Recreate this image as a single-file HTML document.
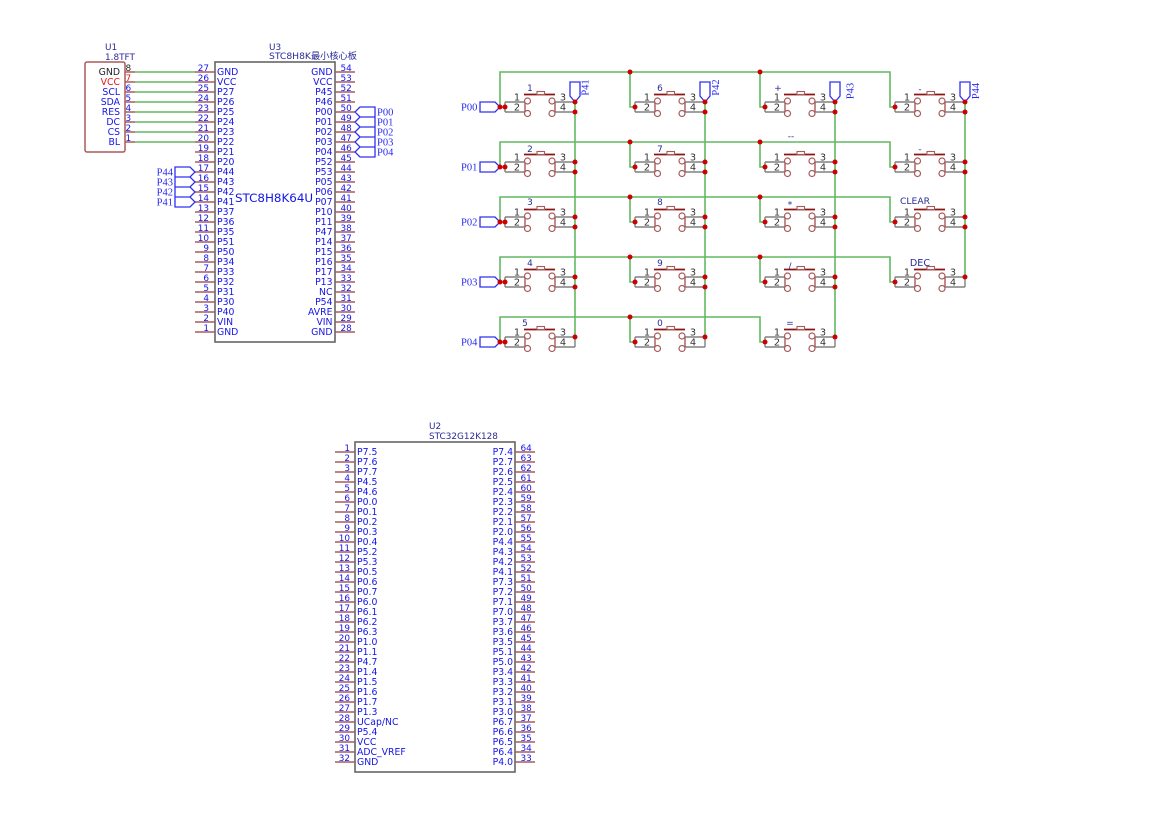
<!DOCTYPE html>
<html><head><meta charset="utf-8"><style>
html,body{margin:0;padding:0;background:#fff;width:1169px;height:827px;overflow:hidden}
svg{display:block}
text{font-family:"DejaVu Sans","Noto Sans CJK SC",sans-serif;font-size:8.9px;fill:#1414e8}
.n{font-size:9.3px}
.t{fill:#2a2a96}
.s{fill:#333;font-size:9.8px}
.p{font-family:"Liberation Serif",serif;font-size:10.5px;fill:#2a2aee}
.m{text-anchor:middle}
.e{text-anchor:end}
.g{fill:none;stroke:#62b862;stroke-width:1.6}
.tag{fill:none;stroke:#3030f0;stroke-width:1.3}
.d{fill:#cc0000}
</style></head><body>
<svg xmlns="http://www.w3.org/2000/svg" width="1169" height="827" viewBox="0 0 1169 827">
<defs>
<g id="sw">
<path d="M0 0h20M0 10h20M50 0h20M50 10h20M0 0v10" fill="none" stroke="#808080" stroke-width="1.4"/>
<path d="M20 0v10M50 0v10" fill="none" stroke="#a85a5a" stroke-width="1.4"/>
<circle cx="22.5" cy="-1" r="3" fill="#fff" stroke="#a85a5a" stroke-width="1.2"/>
<circle cx="22.5" cy="11.5" r="3" fill="#fff" stroke="#a85a5a" stroke-width="1.2"/>
<circle cx="47" cy="-1" r="3" fill="#fff" stroke="#a85a5a" stroke-width="1.2"/>
<circle cx="47" cy="11.5" r="3" fill="#fff" stroke="#a85a5a" stroke-width="1.2"/>
<path d="M19 -7.5h31" stroke="#8c1414" stroke-width="1.8" fill="none"/>
<rect x="32" y="-10.5" width="7.5" height="3" fill="#fff" stroke="#a85a5a" stroke-width="1.1"/>
</g>
</defs>

<!-- U1 -->
<rect x="85" y="62" width="40" height="90" rx="2" fill="#fff" stroke="#a85a5a" stroke-width="1.5"/>
<text class="t" x="105" y="50">U1</text>
<text class="t" x="105" y="60">1.8TFT</text>
<text class="e n" x="120" y="75" style="fill:#222">GND</text>
<text class="e n" x="120" y="85" style="fill:#e01818">VCC</text>
<text class="e n" x="120" y="95">SCL</text>
<text class="e n" x="120" y="105">SDA</text>
<text class="e n" x="120" y="115">RES</text>
<text class="e n" x="120" y="125">DC</text>
<text class="e n" x="120" y="135">CS</text>
<text class="e n" x="120" y="145">BL</text>
<line x1="130" x2="130" y1="71.25" y2="143" stroke="#a85a5a" stroke-width="10" stroke-dasharray="1.5 8.5"/>
<text x="125.5" y="71" style="fill:#222">8</text>
<text x="125.5" y="81" style="fill:#e01818">7</text>
<text x="125.5" y="91">6</text>
<text x="125.5" y="101">5</text>
<text x="125.5" y="111">4</text>
<text x="125.5" y="121">3</text>
<text x="125.5" y="131">2</text>
<text x="125.5" y="141">1</text>
<path class="g" d="M135 72H195M135 82H195M135 92H195M135 102H195M135 112H195M135 122H195M135 132H195M135 142H195"/>

<!-- U3 -->
<rect x="215" y="62" width="120" height="280" fill="#fff" stroke="#666" stroke-width="1.6"/>
<text class="t" x="269" y="50">U3</text>
<text class="t" x="269" y="59" style="font-size:9.2px">STC8H8K最小核心板</text>
<text x="235" y="202" style="font-size:11.9px">STC8H8K64U</text>
<line x1="205" x2="205" y1="71.25" y2="333" stroke="#a85a5a" stroke-width="20" stroke-dasharray="1.5 8.5"/>
<line x1="345" x2="345" y1="71.25" y2="333" stroke="#a85a5a" stroke-width="20" stroke-dasharray="1.5 8.5"/>
<text class="e"><tspan x="209" y="71">27</tspan><tspan x="209" dy="10">26</tspan><tspan x="209" dy="10">25</tspan><tspan x="209" dy="10">24</tspan><tspan x="209" dy="10">23</tspan><tspan x="209" dy="10">22</tspan><tspan x="209" dy="10">21</tspan><tspan x="209" dy="10">20</tspan><tspan x="209" dy="10">19</tspan><tspan x="209" dy="10">18</tspan><tspan x="209" dy="10">17</tspan><tspan x="209" dy="10">16</tspan><tspan x="209" dy="10">15</tspan><tspan x="209" dy="10">14</tspan><tspan x="209" dy="10">13</tspan><tspan x="209" dy="10">12</tspan><tspan x="209" dy="10">11</tspan><tspan x="209" dy="10">10</tspan><tspan x="209" dy="10">9</tspan><tspan x="209" dy="10">8</tspan><tspan x="209" dy="10">7</tspan><tspan x="209" dy="10">6</tspan><tspan x="209" dy="10">5</tspan><tspan x="209" dy="10">4</tspan><tspan x="209" dy="10">3</tspan><tspan x="209" dy="10">2</tspan><tspan x="209" dy="10">1</tspan></text>
<text class="n"><tspan x="217" y="75">GND</tspan><tspan x="217" dy="10">VCC</tspan><tspan x="217" dy="10">P27</tspan><tspan x="217" dy="10">P26</tspan><tspan x="217" dy="10">P25</tspan><tspan x="217" dy="10">P24</tspan><tspan x="217" dy="10">P23</tspan><tspan x="217" dy="10">P22</tspan><tspan x="217" dy="10">P21</tspan><tspan x="217" dy="10">P20</tspan><tspan x="217" dy="10">P44</tspan><tspan x="217" dy="10">P43</tspan><tspan x="217" dy="10">P42</tspan><tspan x="217" dy="10">P41</tspan><tspan x="217" dy="10">P37</tspan><tspan x="217" dy="10">P36</tspan><tspan x="217" dy="10">P35</tspan><tspan x="217" dy="10">P51</tspan><tspan x="217" dy="10">P50</tspan><tspan x="217" dy="10">P34</tspan><tspan x="217" dy="10">P33</tspan><tspan x="217" dy="10">P32</tspan><tspan x="217" dy="10">P31</tspan><tspan x="217" dy="10">P30</tspan><tspan x="217" dy="10">P40</tspan><tspan x="217" dy="10">VIN</tspan><tspan x="217" dy="10">GND</tspan></text>
<text class="e n"><tspan x="332.5" y="75">GND</tspan><tspan x="332.5" dy="10">VCC</tspan><tspan x="332.5" dy="10">P45</tspan><tspan x="332.5" dy="10">P46</tspan><tspan x="332.5" dy="10">P00</tspan><tspan x="332.5" dy="10">P01</tspan><tspan x="332.5" dy="10">P02</tspan><tspan x="332.5" dy="10">P03</tspan><tspan x="332.5" dy="10">P04</tspan><tspan x="332.5" dy="10">P52</tspan><tspan x="332.5" dy="10">P53</tspan><tspan x="332.5" dy="10">P05</tspan><tspan x="332.5" dy="10">P06</tspan><tspan x="332.5" dy="10">P07</tspan><tspan x="332.5" dy="10">P10</tspan><tspan x="332.5" dy="10">P11</tspan><tspan x="332.5" dy="10">P47</tspan><tspan x="332.5" dy="10">P14</tspan><tspan x="332.5" dy="10">P15</tspan><tspan x="332.5" dy="10">P16</tspan><tspan x="332.5" dy="10">P17</tspan><tspan x="332.5" dy="10">P13</tspan><tspan x="332.5" dy="10">NC</tspan><tspan x="332.5" dy="10">P54</tspan><tspan x="332.5" dy="10">AVRE</tspan><tspan x="332.5" dy="10">VIN</tspan><tspan x="332.5" dy="10">GND</tspan></text>
<text><tspan x="340.5" y="71">54</tspan><tspan x="340.5" dy="10">53</tspan><tspan x="340.5" dy="10">52</tspan><tspan x="340.5" dy="10">51</tspan><tspan x="340.5" dy="10">50</tspan><tspan x="340.5" dy="10">49</tspan><tspan x="340.5" dy="10">48</tspan><tspan x="340.5" dy="10">47</tspan><tspan x="340.5" dy="10">46</tspan><tspan x="340.5" dy="10">45</tspan><tspan x="340.5" dy="10">44</tspan><tspan x="340.5" dy="10">43</tspan><tspan x="340.5" dy="10">42</tspan><tspan x="340.5" dy="10">41</tspan><tspan x="340.5" dy="10">40</tspan><tspan x="340.5" dy="10">39</tspan><tspan x="340.5" dy="10">38</tspan><tspan x="340.5" dy="10">37</tspan><tspan x="340.5" dy="10">36</tspan><tspan x="340.5" dy="10">35</tspan><tspan x="340.5" dy="10">34</tspan><tspan x="340.5" dy="10">33</tspan><tspan x="340.5" dy="10">32</tspan><tspan x="340.5" dy="10">31</tspan><tspan x="340.5" dy="10">30</tspan><tspan x="340.5" dy="10">29</tspan><tspan x="340.5" dy="10">28</tspan></text>
<path class="tag" d="M355 112l5-5h15v10h-15zM355 122l5-5h15v10h-15zM355 132l5-5h15v10h-15zM355 142l5-5h15v10h-15zM355 152l5-5h15v10h-15z"/>
<text class="p"><tspan x="377" y="115.5">P00</tspan><tspan x="377" dy="10">P01</tspan><tspan x="377" dy="10">P02</tspan><tspan x="377" dy="10">P03</tspan><tspan x="377" dy="10">P04</tspan></text>
<path class="tag" d="M195 172l-5-5h-15v10h15zM195 182l-5-5h-15v10h15zM195 192l-5-5h-15v10h15zM195 202l-5-5h-15v10h15z"/>
<text class="p e"><tspan x="173" y="175.5">P44</tspan><tspan x="173" dy="10">P43</tspan><tspan x="173" dy="10">P42</tspan><tspan x="173" dy="10">P41</tspan></text>

<!-- Keypad wires -->
<path class="g" d="M500 107V72H890V107H895M630 72V107H635M760 72V107H765
M500 167V142H890V167H895M630 142V167H635M760 142V167H765
M500 222V197H890V222H895M630 197V222H635M760 197V222H765
M500 282V257H890V282H895M630 257V282H635M760 257V282H765
M500 342V317H760V342H765M630 317V342H635
M575 102V337M705 102V337M835 102V337M965 102V277"/>

<!-- Switches -->
<g transform="translate(505 102)"><use href="#sw"/><text class="s m" x="12" y="-1.5">1</text><text class="s m" x="12" y="8.5">2</text><text class="s m" x="58" y="-1.5">3</text><text class="s m" x="58" y="8.5">4</text></g>
<g transform="translate(635 102)"><use href="#sw"/><text class="s m" x="12" y="-1.5">1</text><text class="s m" x="12" y="8.5">2</text><text class="s m" x="58" y="-1.5">3</text><text class="s m" x="58" y="8.5">4</text></g>
<g transform="translate(765 102)"><use href="#sw"/><text class="s m" x="12" y="-1.5">1</text><text class="s m" x="12" y="8.5">2</text><text class="s m" x="58" y="-1.5">3</text><text class="s m" x="58" y="8.5">4</text></g>
<g transform="translate(895 102)"><use href="#sw"/><text class="s m" x="12" y="-1.5">1</text><text class="s m" x="12" y="8.5">2</text><text class="s m" x="58" y="-1.5">3</text><text class="s m" x="58" y="8.5">4</text></g>
<g transform="translate(505 162)"><use href="#sw"/><text class="s m" x="12" y="-1.5">1</text><text class="s m" x="12" y="8.5">2</text><text class="s m" x="58" y="-1.5">3</text><text class="s m" x="58" y="8.5">4</text></g>
<g transform="translate(635 162)"><use href="#sw"/><text class="s m" x="12" y="-1.5">1</text><text class="s m" x="12" y="8.5">2</text><text class="s m" x="58" y="-1.5">3</text><text class="s m" x="58" y="8.5">4</text></g>
<g transform="translate(765 162)"><use href="#sw"/><text class="s m" x="12" y="-1.5">1</text><text class="s m" x="12" y="8.5">2</text><text class="s m" x="58" y="-1.5">3</text><text class="s m" x="58" y="8.5">4</text></g>
<g transform="translate(895 162)"><use href="#sw"/><text class="s m" x="12" y="-1.5">1</text><text class="s m" x="12" y="8.5">2</text><text class="s m" x="58" y="-1.5">3</text><text class="s m" x="58" y="8.5">4</text></g>
<g transform="translate(505 217)"><use href="#sw"/><text class="s m" x="12" y="-1.5">1</text><text class="s m" x="12" y="8.5">2</text><text class="s m" x="58" y="-1.5">3</text><text class="s m" x="58" y="8.5">4</text></g>
<g transform="translate(635 217)"><use href="#sw"/><text class="s m" x="12" y="-1.5">1</text><text class="s m" x="12" y="8.5">2</text><text class="s m" x="58" y="-1.5">3</text><text class="s m" x="58" y="8.5">4</text></g>
<g transform="translate(765 217)"><use href="#sw"/><text class="s m" x="12" y="-1.5">1</text><text class="s m" x="12" y="8.5">2</text><text class="s m" x="58" y="-1.5">3</text><text class="s m" x="58" y="8.5">4</text></g>
<g transform="translate(895 217)"><use href="#sw"/><text class="s m" x="12" y="-1.5">1</text><text class="s m" x="12" y="8.5">2</text><text class="s m" x="58" y="-1.5">3</text><text class="s m" x="58" y="8.5">4</text></g>
<g transform="translate(505 277)"><use href="#sw"/><text class="s m" x="12" y="-1.5">1</text><text class="s m" x="12" y="8.5">2</text><text class="s m" x="58" y="-1.5">3</text><text class="s m" x="58" y="8.5">4</text></g>
<g transform="translate(635 277)"><use href="#sw"/><text class="s m" x="12" y="-1.5">1</text><text class="s m" x="12" y="8.5">2</text><text class="s m" x="58" y="-1.5">3</text><text class="s m" x="58" y="8.5">4</text></g>
<g transform="translate(765 277)"><use href="#sw"/><text class="s m" x="12" y="-1.5">1</text><text class="s m" x="12" y="8.5">2</text><text class="s m" x="58" y="-1.5">3</text><text class="s m" x="58" y="8.5">4</text></g>
<g transform="translate(895 277)"><use href="#sw"/><text class="s m" x="12" y="-1.5">1</text><text class="s m" x="12" y="8.5">2</text><text class="s m" x="58" y="-1.5">3</text><text class="s m" x="58" y="8.5">4</text></g>
<g transform="translate(505 337)"><use href="#sw"/><text class="s m" x="12" y="-1.5">1</text><text class="s m" x="12" y="8.5">2</text><text class="s m" x="58" y="-1.5">3</text><text class="s m" x="58" y="8.5">4</text></g>
<g transform="translate(635 337)"><use href="#sw"/><text class="s m" x="12" y="-1.5">1</text><text class="s m" x="12" y="8.5">2</text><text class="s m" x="58" y="-1.5">3</text><text class="s m" x="58" y="8.5">4</text></g>
<g transform="translate(765 337)"><use href="#sw"/><text class="s m" x="12" y="-1.5">1</text><text class="s m" x="12" y="8.5">2</text><text class="s m" x="58" y="-1.5">3</text><text class="s m" x="58" y="8.5">4</text></g>
<path d="M575 337v10M705 337v10M835 337v10M965 277v10" fill="none" stroke="#808080" stroke-width="1.4"/>

<!-- Switch labels -->
<g>
<text class="t m" x="530" y="91">1</text><text class="t m" x="660" y="91">6</text><text class="t m" x="778" y="91">+</text><text class="t m" x="920" y="92">-</text>
<text class="t m" x="530" y="152">2</text><text class="t m" x="660" y="152">7</text><text class="t m" x="791" y="139">--</text><text class="t m" x="920" y="152">-</text>
<text class="t m" x="530" y="205">3</text><text class="t m" x="660" y="205">8</text><text class="t m" x="790" y="207.5">*</text><text class="t m" x="915" y="204" style="font-size:9.2px">CLEAR</text>
<text class="t m" x="530" y="266">4</text><text class="t m" x="660" y="266">9</text><text class="t m" x="790" y="269">/</text><text class="t m" x="920" y="266" style="font-size:9.6px">DEC</text>
<text class="t m" x="525" y="326">5</text><text class="t m" x="660" y="326">0</text><text class="t m" x="790" y="326">=</text>
</g>

<!-- Left port tags -->
<path class="tag" d="M500 107l-5-5h-15v10h15zM500 167l-5-5h-15v10h15zM500 222l-5-5h-15v10h15zM500 282l-5-5h-15v10h15zM500 342l-5-5h-15v10h15z"/>
<text class="p" x="461" y="110.5">P00</text>
<text class="p" x="461" y="170.5">P01</text>
<text class="p" x="461" y="225.5">P02</text>
<text class="p" x="461" y="285.5">P03</text>
<text class="p" x="461" y="345.5">P04</text>

<!-- Top port tags -->
<path class="tag" d="M575 102l-5-6v-14h10v14zM705 102l-5-6v-14h10v14zM835 102l-5-6v-14h10v14zM965 102l-5-6v-14h10v14z"/>
<text class="p m" transform="translate(588.5 87.5) rotate(-90)">P41</text>
<text class="p m" transform="translate(719 87.5) rotate(-90)">P42</text>
<text class="p m" transform="translate(853.5 91) rotate(-90)">P43</text>
<text class="p m" transform="translate(979 91) rotate(-90)">P44</text>

<!-- Junctions -->
<g class="d">
<circle cx="630" cy="72" r="2.5"/><circle cx="760" cy="72" r="2.5"/>
<circle cx="630" cy="142" r="2.5"/><circle cx="760" cy="142" r="2.5"/>
<circle cx="630" cy="197" r="2.5"/><circle cx="760" cy="197" r="2.5"/>
<circle cx="630" cy="257" r="2.5"/><circle cx="760" cy="257" r="2.5"/>
<circle cx="630" cy="317" r="2.5"/>
<circle cx="500" cy="107" r="2.5"/><circle cx="505" cy="107" r="2.5"/><circle cx="635" cy="107" r="2.5"/><circle cx="765" cy="107" r="2.5"/><circle cx="895" cy="107" r="2.5"/>
<circle cx="500" cy="167" r="2.5"/><circle cx="505" cy="167" r="2.5"/><circle cx="635" cy="167" r="2.5"/><circle cx="765" cy="167" r="2.5"/><circle cx="895" cy="167" r="2.5"/>
<circle cx="500" cy="222" r="2.5"/><circle cx="505" cy="222" r="2.5"/><circle cx="635" cy="222" r="2.5"/><circle cx="765" cy="222" r="2.5"/><circle cx="895" cy="222" r="2.5"/>
<circle cx="500" cy="282" r="2.5"/><circle cx="505" cy="282" r="2.5"/><circle cx="635" cy="282" r="2.5"/><circle cx="765" cy="282" r="2.5"/><circle cx="895" cy="282" r="2.5"/>
<circle cx="500" cy="342" r="2.5"/><circle cx="505" cy="342" r="2.5"/><circle cx="635" cy="342" r="2.5"/><circle cx="765" cy="342" r="2.5"/>
<circle cx="575" cy="102" r="2.5"/><circle cx="575" cy="112" r="2.5"/><circle cx="575" cy="162" r="2.5"/><circle cx="575" cy="172" r="2.5"/><circle cx="575" cy="217" r="2.5"/><circle cx="575" cy="227" r="2.5"/><circle cx="575" cy="277" r="2.5"/><circle cx="575" cy="287" r="2.5"/><circle cx="575" cy="337" r="2.5"/>
<circle cx="705" cy="102" r="2.5"/><circle cx="705" cy="112" r="2.5"/><circle cx="705" cy="162" r="2.5"/><circle cx="705" cy="172" r="2.5"/><circle cx="705" cy="217" r="2.5"/><circle cx="705" cy="227" r="2.5"/><circle cx="705" cy="277" r="2.5"/><circle cx="705" cy="287" r="2.5"/><circle cx="705" cy="337" r="2.5"/>
<circle cx="835" cy="102" r="2.5"/><circle cx="835" cy="112" r="2.5"/><circle cx="835" cy="162" r="2.5"/><circle cx="835" cy="172" r="2.5"/><circle cx="835" cy="217" r="2.5"/><circle cx="835" cy="227" r="2.5"/><circle cx="835" cy="277" r="2.5"/><circle cx="835" cy="287" r="2.5"/><circle cx="835" cy="337" r="2.5"/>
<circle cx="965" cy="102" r="2.5"/><circle cx="965" cy="112" r="2.5"/><circle cx="965" cy="162" r="2.5"/><circle cx="965" cy="172" r="2.5"/><circle cx="965" cy="217" r="2.5"/><circle cx="965" cy="227" r="2.5"/><circle cx="965" cy="277" r="2.5"/>
</g>

<!-- U2 -->
<rect x="355" y="442" width="160" height="330" fill="#fff" stroke="#666" stroke-width="1.6"/>
<text class="t" x="429" y="429">U2</text>
<text class="t" x="429" y="439">STC32G12K128</text>
<line x1="345" x2="345" y1="451.25" y2="763" stroke="#a85a5a" stroke-width="20" stroke-dasharray="1.5 8.5"/>
<line x1="525" x2="525" y1="451.25" y2="763" stroke="#a85a5a" stroke-width="20" stroke-dasharray="1.5 8.5"/>
<text class="e"><tspan x="350" y="451">1</tspan><tspan x="350" dy="10">2</tspan><tspan x="350" dy="10">3</tspan><tspan x="350" dy="10">4</tspan><tspan x="350" dy="10">5</tspan><tspan x="350" dy="10">6</tspan><tspan x="350" dy="10">7</tspan><tspan x="350" dy="10">8</tspan><tspan x="350" dy="10">9</tspan><tspan x="350" dy="10">10</tspan><tspan x="350" dy="10">11</tspan><tspan x="350" dy="10">12</tspan><tspan x="350" dy="10">13</tspan><tspan x="350" dy="10">14</tspan><tspan x="350" dy="10">15</tspan><tspan x="350" dy="10">16</tspan><tspan x="350" dy="10">17</tspan><tspan x="350" dy="10">18</tspan><tspan x="350" dy="10">19</tspan><tspan x="350" dy="10">20</tspan><tspan x="350" dy="10">21</tspan><tspan x="350" dy="10">22</tspan><tspan x="350" dy="10">23</tspan><tspan x="350" dy="10">24</tspan><tspan x="350" dy="10">25</tspan><tspan x="350" dy="10">26</tspan><tspan x="350" dy="10">27</tspan><tspan x="350" dy="10">28</tspan><tspan x="350" dy="10">29</tspan><tspan x="350" dy="10">30</tspan><tspan x="350" dy="10">31</tspan><tspan x="350" dy="10">32</tspan></text>
<text class="n"><tspan x="357" y="455">P7.5</tspan><tspan x="357" dy="10">P7.6</tspan><tspan x="357" dy="10">P7.7</tspan><tspan x="357" dy="10">P4.5</tspan><tspan x="357" dy="10">P4.6</tspan><tspan x="357" dy="10">P0.0</tspan><tspan x="357" dy="10">P0.1</tspan><tspan x="357" dy="10">P0.2</tspan><tspan x="357" dy="10">P0.3</tspan><tspan x="357" dy="10">P0.4</tspan><tspan x="357" dy="10">P5.2</tspan><tspan x="357" dy="10">P5.3</tspan><tspan x="357" dy="10">P0.5</tspan><tspan x="357" dy="10">P0.6</tspan><tspan x="357" dy="10">P0.7</tspan><tspan x="357" dy="10">P6.0</tspan><tspan x="357" dy="10">P6.1</tspan><tspan x="357" dy="10">P6.2</tspan><tspan x="357" dy="10">P6.3</tspan><tspan x="357" dy="10">P1.0</tspan><tspan x="357" dy="10">P1.1</tspan><tspan x="357" dy="10">P4.7</tspan><tspan x="357" dy="10">P1.4</tspan><tspan x="357" dy="10">P1.5</tspan><tspan x="357" dy="10">P1.6</tspan><tspan x="357" dy="10">P1.7</tspan><tspan x="357" dy="10">P1.3</tspan><tspan x="357" dy="10">UCap/NC</tspan><tspan x="357" dy="10">P5.4</tspan><tspan x="357" dy="10">VCC</tspan><tspan x="357" dy="10">ADC_VREF</tspan><tspan x="357" dy="10">GND</tspan></text>
<text class="e n"><tspan x="513" y="455">P7.4</tspan><tspan x="513" dy="10">P2.7</tspan><tspan x="513" dy="10">P2.6</tspan><tspan x="513" dy="10">P2.5</tspan><tspan x="513" dy="10">P2.4</tspan><tspan x="513" dy="10">P2.3</tspan><tspan x="513" dy="10">P2.2</tspan><tspan x="513" dy="10">P2.1</tspan><tspan x="513" dy="10">P2.0</tspan><tspan x="513" dy="10">P4.4</tspan><tspan x="513" dy="10">P4.3</tspan><tspan x="513" dy="10">P4.2</tspan><tspan x="513" dy="10">P4.1</tspan><tspan x="513" dy="10">P7.3</tspan><tspan x="513" dy="10">P7.2</tspan><tspan x="513" dy="10">P7.1</tspan><tspan x="513" dy="10">P7.0</tspan><tspan x="513" dy="10">P3.7</tspan><tspan x="513" dy="10">P3.6</tspan><tspan x="513" dy="10">P3.5</tspan><tspan x="513" dy="10">P5.1</tspan><tspan x="513" dy="10">P5.0</tspan><tspan x="513" dy="10">P3.4</tspan><tspan x="513" dy="10">P3.3</tspan><tspan x="513" dy="10">P3.2</tspan><tspan x="513" dy="10">P3.1</tspan><tspan x="513" dy="10">P3.0</tspan><tspan x="513" dy="10">P6.7</tspan><tspan x="513" dy="10">P6.6</tspan><tspan x="513" dy="10">P6.5</tspan><tspan x="513" dy="10">P6.4</tspan><tspan x="513" dy="10">P4.0</tspan></text>
<text><tspan x="520.5" y="451">64</tspan><tspan x="520.5" dy="10">63</tspan><tspan x="520.5" dy="10">62</tspan><tspan x="520.5" dy="10">61</tspan><tspan x="520.5" dy="10">60</tspan><tspan x="520.5" dy="10">59</tspan><tspan x="520.5" dy="10">58</tspan><tspan x="520.5" dy="10">57</tspan><tspan x="520.5" dy="10">56</tspan><tspan x="520.5" dy="10">55</tspan><tspan x="520.5" dy="10">54</tspan><tspan x="520.5" dy="10">53</tspan><tspan x="520.5" dy="10">52</tspan><tspan x="520.5" dy="10">51</tspan><tspan x="520.5" dy="10">50</tspan><tspan x="520.5" dy="10">49</tspan><tspan x="520.5" dy="10">48</tspan><tspan x="520.5" dy="10">47</tspan><tspan x="520.5" dy="10">46</tspan><tspan x="520.5" dy="10">45</tspan><tspan x="520.5" dy="10">44</tspan><tspan x="520.5" dy="10">43</tspan><tspan x="520.5" dy="10">42</tspan><tspan x="520.5" dy="10">41</tspan><tspan x="520.5" dy="10">40</tspan><tspan x="520.5" dy="10">39</tspan><tspan x="520.5" dy="10">38</tspan><tspan x="520.5" dy="10">37</tspan><tspan x="520.5" dy="10">36</tspan><tspan x="520.5" dy="10">35</tspan><tspan x="520.5" dy="10">34</tspan><tspan x="520.5" dy="10">33</tspan></text>
</svg>
</body></html>
